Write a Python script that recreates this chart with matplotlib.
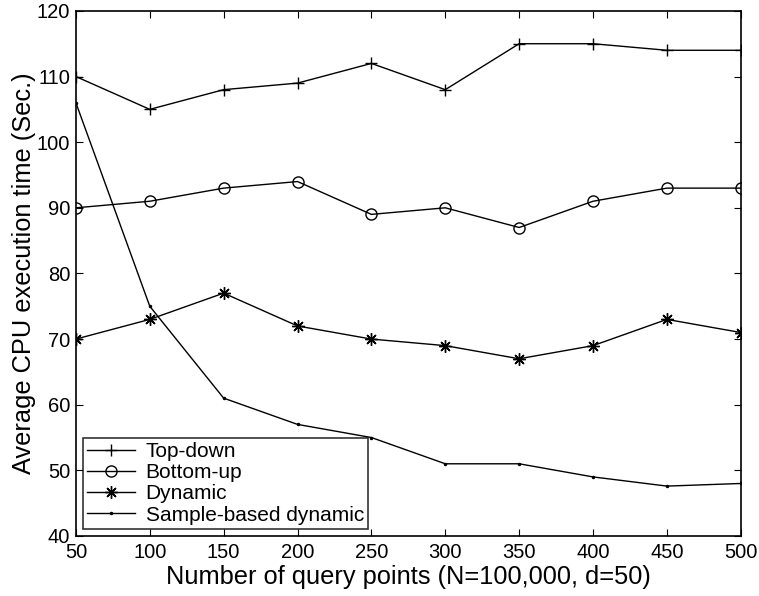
import matplotlib
matplotlib.use("Agg")
import matplotlib.pyplot as plt

plt.rcParams['font.family'] = ['Liberation Sans', 'DejaVu Sans']

query_points = [50, 100, 150, 200, 250, 300, 350, 400, 450, 500]
top_down = [110, 105, 108, 109, 112, 108, 115, 115, 114, 114]
bottom_up = [90, 91, 93, 94, 89, 90, 87, 91, 93, 93]
dynamic = [70, 73, 77, 72, 70, 69, 67, 69, 73, 71]
sample_dynamic = [106, 75, 61, 57, 55, 51, 51, 49, 47.6, 48]

fig = plt.figure(figsize=(7.59, 5.96), dpi=100)
ax = fig.add_axes([0.100, 0.1007, 0.876, 0.881])

ax.plot(query_points, top_down, color='black', lw=1, marker='+', ms=9, mew=1, label='Top-down')
ax.plot(query_points, bottom_up, color='black', lw=1, marker='o', ms=8, mfc='none', mew=1, label='Bottom-up')
ax.plot(query_points, dynamic, color='black', lw=1, marker=(8, 2, 0), ms=9, mew=1, label='Dynamic')
ax.plot(query_points, sample_dynamic, color='black', lw=1, marker='.', ms=3, label='Sample-based dynamic')

ax.set_xlim(50, 500)
ax.set_ylim(40, 120)
ax.set_xticks(range(50, 501, 50))
ax.set_yticks(range(40, 121, 10))
ax.tick_params(direction='in', top=True, right=True, labelsize=14.5, length=5)
ax.tick_params(axis='x', pad=5)
ax.tick_params(axis='y', pad=4)
for s in ax.spines.values():
    s.set_linewidth(1.2)

ax.set_xlabel('Number of query points (N=100,000, d=50)', fontsize=18.3, labelpad=2)
ax.set_ylabel('Average CPU execution time (Sec.)', fontsize=18.3, labelpad=1)

leg = ax.legend(loc='lower left', fontsize=15, frameon=True, fancybox=False,
                edgecolor='black', borderpad=0.2, labelspacing=0.1, handlelength=2.3,
                handletextpad=0.5, borderaxespad=0.35)
leg.get_frame().set_linewidth(1.2)

fig.savefig('out.png', dpi=100)
